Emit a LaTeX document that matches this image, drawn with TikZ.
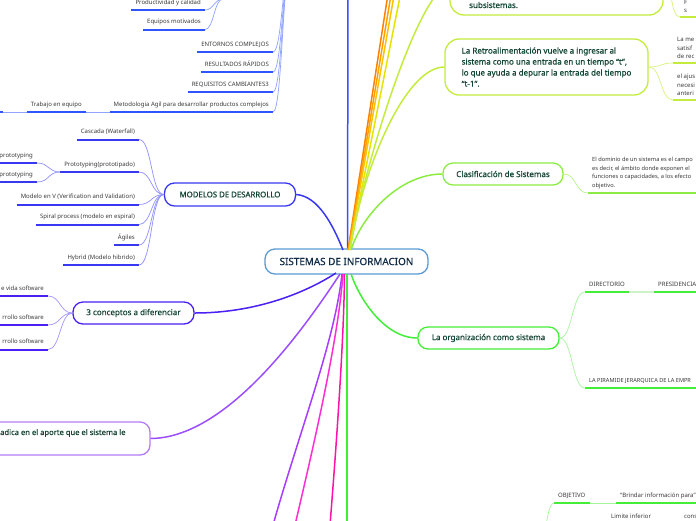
\documentclass[tikz,border=0pt]{standalone}
\usepackage{fontspec}
\setmainfont{Noto Sans}
\newfontfamily\hubfont{Noto Sans}[FakeBold=0.5]
\definecolor{nodegreen}{HTML}{124535}
\definecolor{rootnavy}{HTML}{0F2B46}
\definecolor{rootblue}{HTML}{5B9BD5}
\definecolor{leafgray}{HTML}{3A3A3A}
\definecolor{bblue}{HTML}{2F55FF}
\definecolor{bbluel}{HTML}{8FA3FF}
\definecolor{mblue}{HTML}{3838F2}
\definecolor{mbluel}{HTML}{9090FF}
\definecolor{cviol}{HTML}{4A20F5}
\definecolor{cviolt}{HTML}{A496FF}
\definecolor{pviol}{HTML}{9B4DFF}
\definecolor{pviolb}{HTML}{B57CF8}
\definecolor{mag1}{HTML}{A83CFF}
\definecolor{mag2}{HTML}{FF2ED2}
\definecolor{mag3}{HTML}{FF12A8}
\definecolor{or1}{HTML}{FF8000}
\definecolor{or2}{HTML}{FFA000}
\definecolor{or3}{HTML}{FFC200}
\definecolor{or4}{HTML}{E4E400}
\definecolor{ygreen}{HTML}{C4EC3C}
\definecolor{ygreenl}{HTML}{D8F27C}
\definecolor{lgreen}{HTML}{8CEC44}
\definecolor{lgreenl}{HTML}{B8F48C}
\definecolor{ggreen}{HTML}{44EE38}
\definecolor{ggreenl}{HTML}{A6F49E}
\definecolor{ggreenp}{HTML}{CDF2CA}
\tikzset{
  hub/.style={draw, fill=white, rounded corners=10pt, line width=1.3pt, inner sep=0pt,
    font=\hubfont\fontsize{8}{10}\selectfont, text=nodegreen},
  hubtext/.style={inner sep=0pt, font=\hubfont\fontsize{8}{11}\selectfont, text=nodegreen},
  leaf/.style={inner xsep=4pt, inner ysep=4.5pt, font=\fontsize{6}{8.6}\selectfont,
    text=leafgray, text height=4.3pt, text depth=1pt},
  mleaf/.style={inner xsep=4pt, inner ysep=4pt, font=\fontsize{6}{8.7}\selectfont,
    text=leafgray, align=left},
  ul/.style={line width=2pt},
  twig/.style={line width=0.7pt},
  branch/.style={line width=1.5pt},
}
\newcommand\mmleafL[5]{\node[leaf, anchor=south east] (#1) at (#2,#3) {#5};
  \draw[ul,#4] (#1.south west) -- (#1.south east);}
\newcommand\mmleafR[5]{\node[leaf, anchor=south west] (#1) at (#2,#3) {#5};
  \draw[ul,#4] (#1.south west) -- (#1.south east);}
\begin{document}
\begin{tikzpicture}[x=1pt,y=-1pt]
\clip (0,0) rectangle (696,520);
\fill[white] (0,0) rectangle (696,520);

% ---------- hubs ----------
\node[hub, draw=rootblue, text=rootnavy, font=\hubfont\fontsize{9.9}{11}\selectfont,
  minimum width=163pt, minimum height=25pt] (root) at (346.5,261.5) {SISTEMAS DE INFORMACION};
\node[hub, draw=mblue, font=\hubfont\fontsize{7.8}{10}\selectfont, minimum width=131pt, minimum height=23pt] (mod) at (230,194.5) {MODELOS DE DESARROLLO};
\node[hub, draw=cviol, minimum width=121pt, minimum height=22pt] (con) at (133.5,313) {3 conceptos a diferenciar};
\node[hub, draw=pviolb, minimum width=210pt, minimum height=33pt] (bl) at (45,438.5) {};
\node[hubtext, font=\hubfont\fontsize{7.6}{11}\selectfont, anchor=west] (blt) at (0,433) {adica en el aporte que el sistema le};
\node[hub, draw=ygreen, rounded corners=14pt, minimum width=213pt, minimum height=60pt] (sub) at (556.5,-15) {};
\node[hubtext, anchor=west] (subt) at (469,5) {subsistemas.};
\node[hub, draw=ygreen, rounded corners=14pt, minimum width=203pt, minimum height=56pt,
  align=left, font=\hubfont\fontsize{8}{11}\selectfont] (ret) at (546.5,67)
  {La Retroalimentación vuelve a ingresar al\\sistema como una entrada en un tiempo “t”,\\lo que ayuda a depurar la entrada del tiempo\\“t-1”.};
\node[hub, draw=lgreen, minimum width=120pt, minimum height=22pt] (cla) at (503,174) {Clasificación de Sistemas};
\node[hub, draw=ggreen, minimum width=141pt, minimum height=22pt] (org) at (488.5,338) {La organización como sistema};

% ---------- free ends ----------
\coordinate (topb) at (348,-5);
\coordinate (o1) at (393.3,-40);
\coordinate (o2) at (396.8,-40);
\coordinate (o3) at (400.3,-40);
\coordinate (o4) at (407.3,-40);
\coordinate (bot1) at (273,525);
\coordinate (bot2) at (295,525);
\coordinate (bot3) at (330,525);
\coordinate (bot4) at (347,525);
\coordinate (pa1) at (223,-1);
\coordinate (pa2) at (273,-1);
\coordinate (pb) at (292,-40);
\coordinate (objp) at (536,560);
\coordinate (trl) at (0,112);

% ---------- main branches (up) ----------
\draw[branch, bblue] (root.north) ++(1,0) -- (topb);
\draw[branch, or1] (348,250) -- (o1);
\draw[branch, or2] (348.5,250) -- (o2);
\draw[branch, or3] (349,250) -- (o3);
\draw[branch, or4] (349.5,250) -- (o4);
\draw[branch, ygreen] (sub.west) .. controls (420,-12) and (365,160) .. (350,250);
\draw[branch, ygreen] (ret.west) .. controls (405,67) and (362,170) .. (350,250);
\draw[branch, lgreen] (cla.west) .. controls (400,174) and (362,215) .. (351,250);
\draw[branch, mblue] (mod.east) .. controls (318,196) and (333,225) .. (343,250);

% ---------- main branches (down) ----------
\draw[branch, cviol] (con.east) .. controls (260,313) and (310,290) .. (336,273);
\draw[branch, pviol] (bl.east) .. controls (225,438) and (300,335) .. (340,274);
\draw[branch, mag1] (342,274) .. controls (335,340) and (300,430) .. (bot1);
\draw[branch, mag2] (343,274) .. controls (338,340) and (315,440) .. (bot2);
\draw[branch, mag3] (344.5,274) .. controls (344,340) and (336,450) .. (bot3);
\draw[branch, ggreen] (347,274) -- (bot4);
\draw[branch, ggreen] (org.west) .. controls (385,338) and (360,300) .. (351,274);

% ---------- top-left group ----------
\draw[ul, bblue] (pa1) -- (pa2);
\mmleafL{prod}{205}{10}{bblue}{Productividad y calidad}
\mmleafL{equi}{205}{29.5}{bblue}{Equipos motivados}
\mmleafL{ent}{273}{52}{bblue}{ENTORNOS COMPLEJOS}
\mmleafL{res}{273}{72}{bblue}{RESULTADOS RÁPIDOS}
\mmleafL{req}{273}{92}{bblue}{REQUISITOS CAMBIANTES3}
\mmleafL{met}{273}{112}{bblue}{Metodologia Agil para desarrollar productos complejos}
\mmleafL{tra}{86}{112}{bblue}{Trabajo en equipo}
\draw[twig, bbluel] (prod.south east) .. controls +(9,0) and +(-9,0) .. (pa1);
\draw[twig, bbluel] (equi.south east) .. controls +(9,0) and +(-9,0) .. (pa1);
\draw[twig, bbluel] (pa2) .. controls +(9.5,0) and +(-9.5,0) .. (pb);
\foreach \n in {ent,res,req,met}{
  \draw[twig, bbluel] (\n.south east) .. controls +(9.5,0) and +(-9.5,0) .. (pb);}
\draw[twig, bbluel] (met.south west) -- (tra.south east);
\draw[twig, bbluel] (tra.south west) -- (trl);
\draw[ul, bblue] (-3,112) -- (2.5,112);

% ---------- modelos group ----------
\mmleafL{cas}{139}{139.5}{mblue}{Cascada (Waterfall)}
\mmleafL{pro}{139}{172}{mblue}{Prototyping(prototipado)}
\mmleafL{mov}{139}{204.5}{mblue}{Modelo en V (Verification and Validation)}
\mmleafL{spi}{139}{224.5}{mblue}{Spiral process (modelo en espiral)}
\mmleafL{agi}{139}{245}{mblue}{Ágiles}
\mmleafL{hyb}{139}{265}{mblue}{Hybrid (Modelo hibrido)}
\mmleafL{pra}{37}{163}{mblue}{prototyping}
\mmleafL{prb}{37}{182}{mblue}{prototyping}
\foreach \n in {cas,pro,mov,spi,agi,hyb}{
  \draw[twig, mbluel] (\n.south east) .. controls +(13,0) and +(-13,0) .. (mod.west);}
\foreach \n in {pra,prb}{
  \draw[twig, mbluel] (\n.south east) .. controls +(12.5,0) and +(-12.5,0) .. (pro.south west);}

% ---------- 3 conceptos group ----------
\mmleafL{ca}{48}{296}{cviol}{e vida software}
\mmleafL{cb}{48}{325}{cviol}{rrollo software}
\mmleafL{cc}{48}{349.5}{cviol}{rrollo software}
\foreach \n in {ca,cb,cc}{
  \draw[twig, cviolt] (\n.south east) .. controls +(12.5,0) and +(-12.5,0) .. (con.west);}

% ---------- right side ----------
\node[mleaf, anchor=south west] (sc) at (680,17) {F\\s};
\draw[ul, ygreen] (sc.south west) -- ++(30,0);
\draw[twig, ygreenl] (sub.east) .. controls +(10,0) and +(-10,0) .. (sc.south west);

\node[mleaf, anchor=south west] (rma) at (673,63) {La me\\satisf\\de rec};
\draw[ul, ygreen] (rma.south west) -- ++(40,0);
\node[mleaf, anchor=south west] (rmb) at (673,100) {el ajus\\necesi\\anteri};
\draw[ul, ygreen] (rmb.south west) -- ++(40,0);
\draw[twig, ygreenl] (ret.east) .. controls +(13,0) and +(-13,0) .. (rma.south west);
\draw[twig, ygreenl] (ret.east) .. controls +(13,0) and +(-13,0) .. (rmb.south west);

\node[mleaf, anchor=south west, font=\fontsize{5.7}{8.7}\selectfont] (dom) at (588,193)
  {El dominio de un sistema es el campo\\es decir, el ámbito donde exponen el\\funciones o capacidades, a los efecto\\objetivo.};
\draw[ul, lgreen] (dom.south west) -- ++(130,0);
\draw[twig, lgreenl] (cla.east) .. controls +(13,0) and +(-13,0) .. (dom.south west);

\mmleafR{dir}{585}{292}{ggreen}{DIRECTORIO}
\mmleafR{pre}{654}{292}{ggreen}{PRESIDENCIA}
\draw[ul, ggreenp] (dir.south east) -- (pre.south west);
\node[leaf, anchor=south west, font=\fontsize{5.6}{8.6}\selectfont] (pir) at (585,388) {LA PIRAMIDE JERARQUICA DE LA EMPR};
\draw[ul, ggreen] (pir.south west) -- ++(120,0);
\draw[twig, ggreenl] (org.east) .. controls +(13,0) and +(-13,0) .. (dir.south west);
\draw[twig, ggreenl] (org.east) .. controls +(13,0) and +(-13,0) .. (pir.south west);

\mmleafR{obj}{554}{503}{ggreen}{OBJETIVO}
\mmleafR{bri}{616}{503}{ggreen}{“Brindar información para”}
\draw[twig, ggreenl] (obj.south east) -- (bri.south west);
\draw[twig, ggreenl] (objp) .. controls +(9,0) and +(-9,0) .. (obj.south west);
\node[leaf, anchor=base west, inner sep=0pt] (lim) at (611,518) {Limite inferior};
\node[leaf, anchor=base west, inner sep=0pt] (cons) at (684,518) {cons};
\end{tikzpicture}
\end{document}
